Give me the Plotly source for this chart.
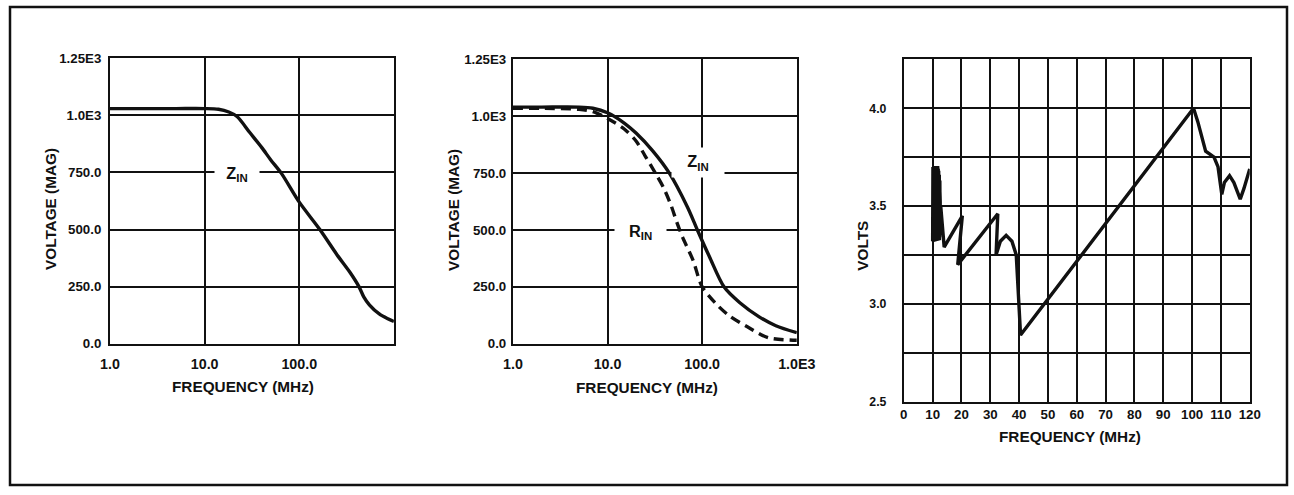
import plotly.graph_objects as go

# Figure size and the mapping from target picture pixels to figure pixels
# (the captured page shows the figure slightly offset and scaled; compensate for it)
W, H = 1306, 493
SX, SY = 0.978, 0.972
OX, OY = 9.0, 6.5

# ---------------- data ----------------
# Panel 1: Z_IN magnitude vs frequency (MHz)
p1_freq = [1, 2, 5, 10, 14, 18, 22, 30, 40, 50, 65, 100, 165, 250, 340, 427, 480, 550, 700, 850, 1000]
p1_zin = [1030, 1030, 1030, 1030, 1027, 1015, 995, 925, 860, 805, 745, 620, 500, 390, 315, 250, 205, 170, 130, 110, 97]

# Panel 2: Z_IN (solid) and R_IN (dashed)
p2_freq_z = [1, 2, 5, 7, 10, 15, 20, 30, 45, 70, 89, 120, 170, 250, 400, 600, 1000]
p2_zin = [1040, 1040, 1040, 1035, 1015, 970, 926, 848, 750, 600, 500, 380, 250, 180, 118, 79, 48]
p2_freq_r = [1, 2, 5, 7, 10, 15, 20, 25, 32, 39, 47, 54, 62, 80, 100, 150, 200, 300, 500, 1000]
p2_rin = [1035, 1035, 1030, 1020, 990, 944, 891, 825, 750, 686, 607, 533, 468, 367, 250, 163, 118, 74, 26, 15]

# Panel 3: volts vs frequency (MHz)
p3_freq = [10.0, 10.1, 10.2, 10.3, 10.4, 10.5, 10.6, 10.7, 10.8, 10.9, 11.0, 11.1, 11.2,
           11.3, 11.4, 11.5, 11.6, 11.7, 11.8, 11.9, 12.0, 12.1, 12.2, 12.3, 12.4, 12.5,
           12.6, 12.8, 14.0,
           20.3, 18.7, 32.6, 32.0, 33.5, 35.5, 37.5, 39.0, 40.5, 100.5, 102.0, 104.7,
           107.6, 109.0, 110.3, 111.2, 113.0, 114.5, 116.7, 118.0, 120.0]
p3_volts = [3.32, 3.70, 3.33, 3.70, 3.33, 3.70, 3.33, 3.70, 3.33, 3.70, 3.33, 3.70, 3.33,
            3.70, 3.33, 3.70, 3.33, 3.69, 3.33, 3.69, 3.33, 3.68, 3.33, 3.66, 3.34, 3.63,
            3.35, 3.50, 3.29,
            3.45, 3.20, 3.46, 3.25, 3.32, 3.35, 3.32, 3.25, 2.84, 4.00, 3.93, 3.78,
            3.75, 3.70, 3.56, 3.62, 3.655, 3.62, 3.535, 3.59, 3.69]
# envelope of the dense oscillation burst near 10-13 MHz
p3_burst_freq = [10.0, 10.2, 12.0, 12.8, 12.6, 10.0]
p3_burst_volts = [3.32, 3.70, 3.70, 3.52, 3.33, 3.32]

# tick labels
log_tickvals = [1, 10, 100, 1000]
p1_ticktext = ["1.0", "10.0", "100.0", ""]
p2_ticktext = ["1.0", "10.0", "100.0", "1.0E3"]
mag_tickvals = [0, 250, 500, 750, 1000, 1250]
mag_ticktext = ["0.0", "250.0", "500.0", "750.0", "1.0E3", "1.25E3"]
p3_xticks = list(range(0, 121, 10))
p3_yticks = [2.5, 2.75, 3.0, 3.25, 3.5, 3.75, 4.0, 4.25]
p3_yticktext = ["2.5", "", "3.0", "", "3.5", "", "4.0", ""]

# ---------------- layout helpers (target pixel -> paper fraction) ----------------
def fx(x):
    return (x - OX) / SX

def fy(y):
    return (y - OY) / SY

def px_x(x):
    return min(max(fx(x) / W, 0.0), 1.0)

def px_y(y):
    return min(max(1 - fy(y) / H, 0.0), 1.0)

def s(v):
    return v / SX

FONT = "Arial, Liberation Sans, Helvetica, sans-serif"
INK = "#111111"

fig = go.Figure()

fig.add_trace(go.Scatter(x=p1_freq, y=p1_zin, mode="lines", xaxis="x", yaxis="y",
                         line=dict(color=INK, width=3.4, shape="spline", smoothing=0.8),
                         showlegend=False, hoverinfo="skip"))
fig.add_trace(go.Scatter(x=p2_freq_r, y=p2_rin, mode="lines", xaxis="x2", yaxis="y2",
                         line=dict(color=INK, width=3.4, dash="10px,6px", shape="spline", smoothing=0.8),
                         showlegend=False, hoverinfo="skip"))
fig.add_trace(go.Scatter(x=p2_freq_z, y=p2_zin, mode="lines", xaxis="x2", yaxis="y2",
                         line=dict(color=INK, width=3.4, shape="spline", smoothing=0.8),
                         showlegend=False, hoverinfo="skip"))
fig.add_trace(go.Scatter(x=p3_burst_freq, y=p3_burst_volts, mode="lines", xaxis="x3", yaxis="y3",
                         fill="toself", fillcolor=INK, line=dict(color=INK, width=2),
                         showlegend=False, hoverinfo="skip"))
fig.add_trace(go.Scatter(x=p3_freq, y=p3_volts, mode="lines", xaxis="x3", yaxis="y3",
                         line=dict(color=INK, width=3.4, simplify=False),
                         showlegend=False, hoverinfo="skip"))

common_axis = dict(showline=True, linecolor=INK, linewidth=2, mirror=True,
                   showgrid=True, gridcolor=INK, gridwidth=2, zeroline=False,
                   ticks="outside", tickcolor="rgba(0,0,0,0)",
                   tickfont=dict(family=FONT, size=s(13), color=INK, weight="bold"))
xfont = dict(family=FONT, size=s(14), color=INK, weight="bold")
p3font = dict(family=FONT, size=s(13), color=INK, weight="bold")

fig.update_layout(
    width=W, height=H,
    margin=dict(l=0, r=0, t=0, b=0),
    paper_bgcolor="white", plot_bgcolor="white",
    xaxis=dict(common_axis, type="log", range=[0, 3], domain=[px_x(109), px_x(393)],
               tickvals=log_tickvals, ticktext=p1_ticktext, ticklen=6, anchor="y",
               tickfont=xfont),
    yaxis=dict(common_axis, range=[0, 1250], domain=[px_y(344), px_y(58)],
               tickvals=mag_tickvals, ticktext=mag_ticktext, ticklen=4, anchor="x"),
    xaxis2=dict(common_axis, type="log", range=[0, 3], domain=[px_x(512), px_x(796)],
                tickvals=log_tickvals, ticktext=p2_ticktext, ticklen=6, anchor="y2",
                tickfont=xfont),
    yaxis2=dict(common_axis, range=[0, 1250], domain=[px_y(344), px_y(59)],
                tickvals=mag_tickvals, ticktext=mag_ticktext, ticklen=2, anchor="x2"),
    xaxis3=dict(common_axis, range=[0, 120], domain=[px_x(903), px_x(1249)],
                tickvals=p3_xticks, ticklen=0, anchor="y3", tickfont=p3font),
    yaxis3=dict(common_axis, range=[2.5, 4.25], domain=[px_y(402), px_y(59)],
                tickvals=p3_yticks, ticktext=p3_yticktext, ticklen=13, anchor="x3",
                tickfont=dict(family=FONT, size=s(12), color=INK, weight="bold")),
)

title_font = dict(family=FONT, size=s(15), color=INK, weight="bold")
annotations = [
    # axis titles
    dict(text="VOLTAGE (MAG)", x=px_x(50), y=px_y(209), textangle=-90),
    dict(text="FREQUENCY (MHz)", x=px_x(242), y=px_y(387)),
    dict(text="VOLTAGE (MAG)", x=px_x(453), y=px_y(210), textangle=-90),
    dict(text="FREQUENCY (MHz)", x=px_x(646), y=px_y(388)),
    dict(text="VOLTS", x=px_x(862), y=px_y(246), textangle=-90),
    dict(text="FREQUENCY (MHz)", x=px_x(1069), y=px_y(437)),
]
for a in annotations:
    a.update(xref="paper", yref="paper", showarrow=False, font=title_font,
             xanchor="center", yanchor="middle")

label_font = dict(family=FONT, size=s(16), color=INK, weight="bold")
curve_labels = [
    dict(text="Z<sub>IN</sub>", x=px_x(236.5), y=px_y(174), width=s(43), height=22),
    dict(text="Z<sub>IN</sub>", x=px_x(697.5), y=px_y(162), width=s(51), height=29),
    dict(text="R<sub>IN</sub>", x=px_x(640), y=px_y(232), width=s(50), height=22),
]
for a in curve_labels:
    a.update(xref="paper", yref="paper", showarrow=False, font=label_font,
             xanchor="center", yanchor="middle", bgcolor="white", borderpad=0,
             align="center", valign="middle")

fig.update_layout(annotations=annotations + curve_labels)

# outer frame around the whole figure
fig.add_shape(type="rect", xref="paper", yref="paper",
              x0=px_x(2), x1=px_x(1291), y0=px_y(492), y1=px_y(5),
              line=dict(color=INK, width=2.5), fillcolor="rgba(0,0,0,0)", layer="above")

fig.write_html("out.html")
